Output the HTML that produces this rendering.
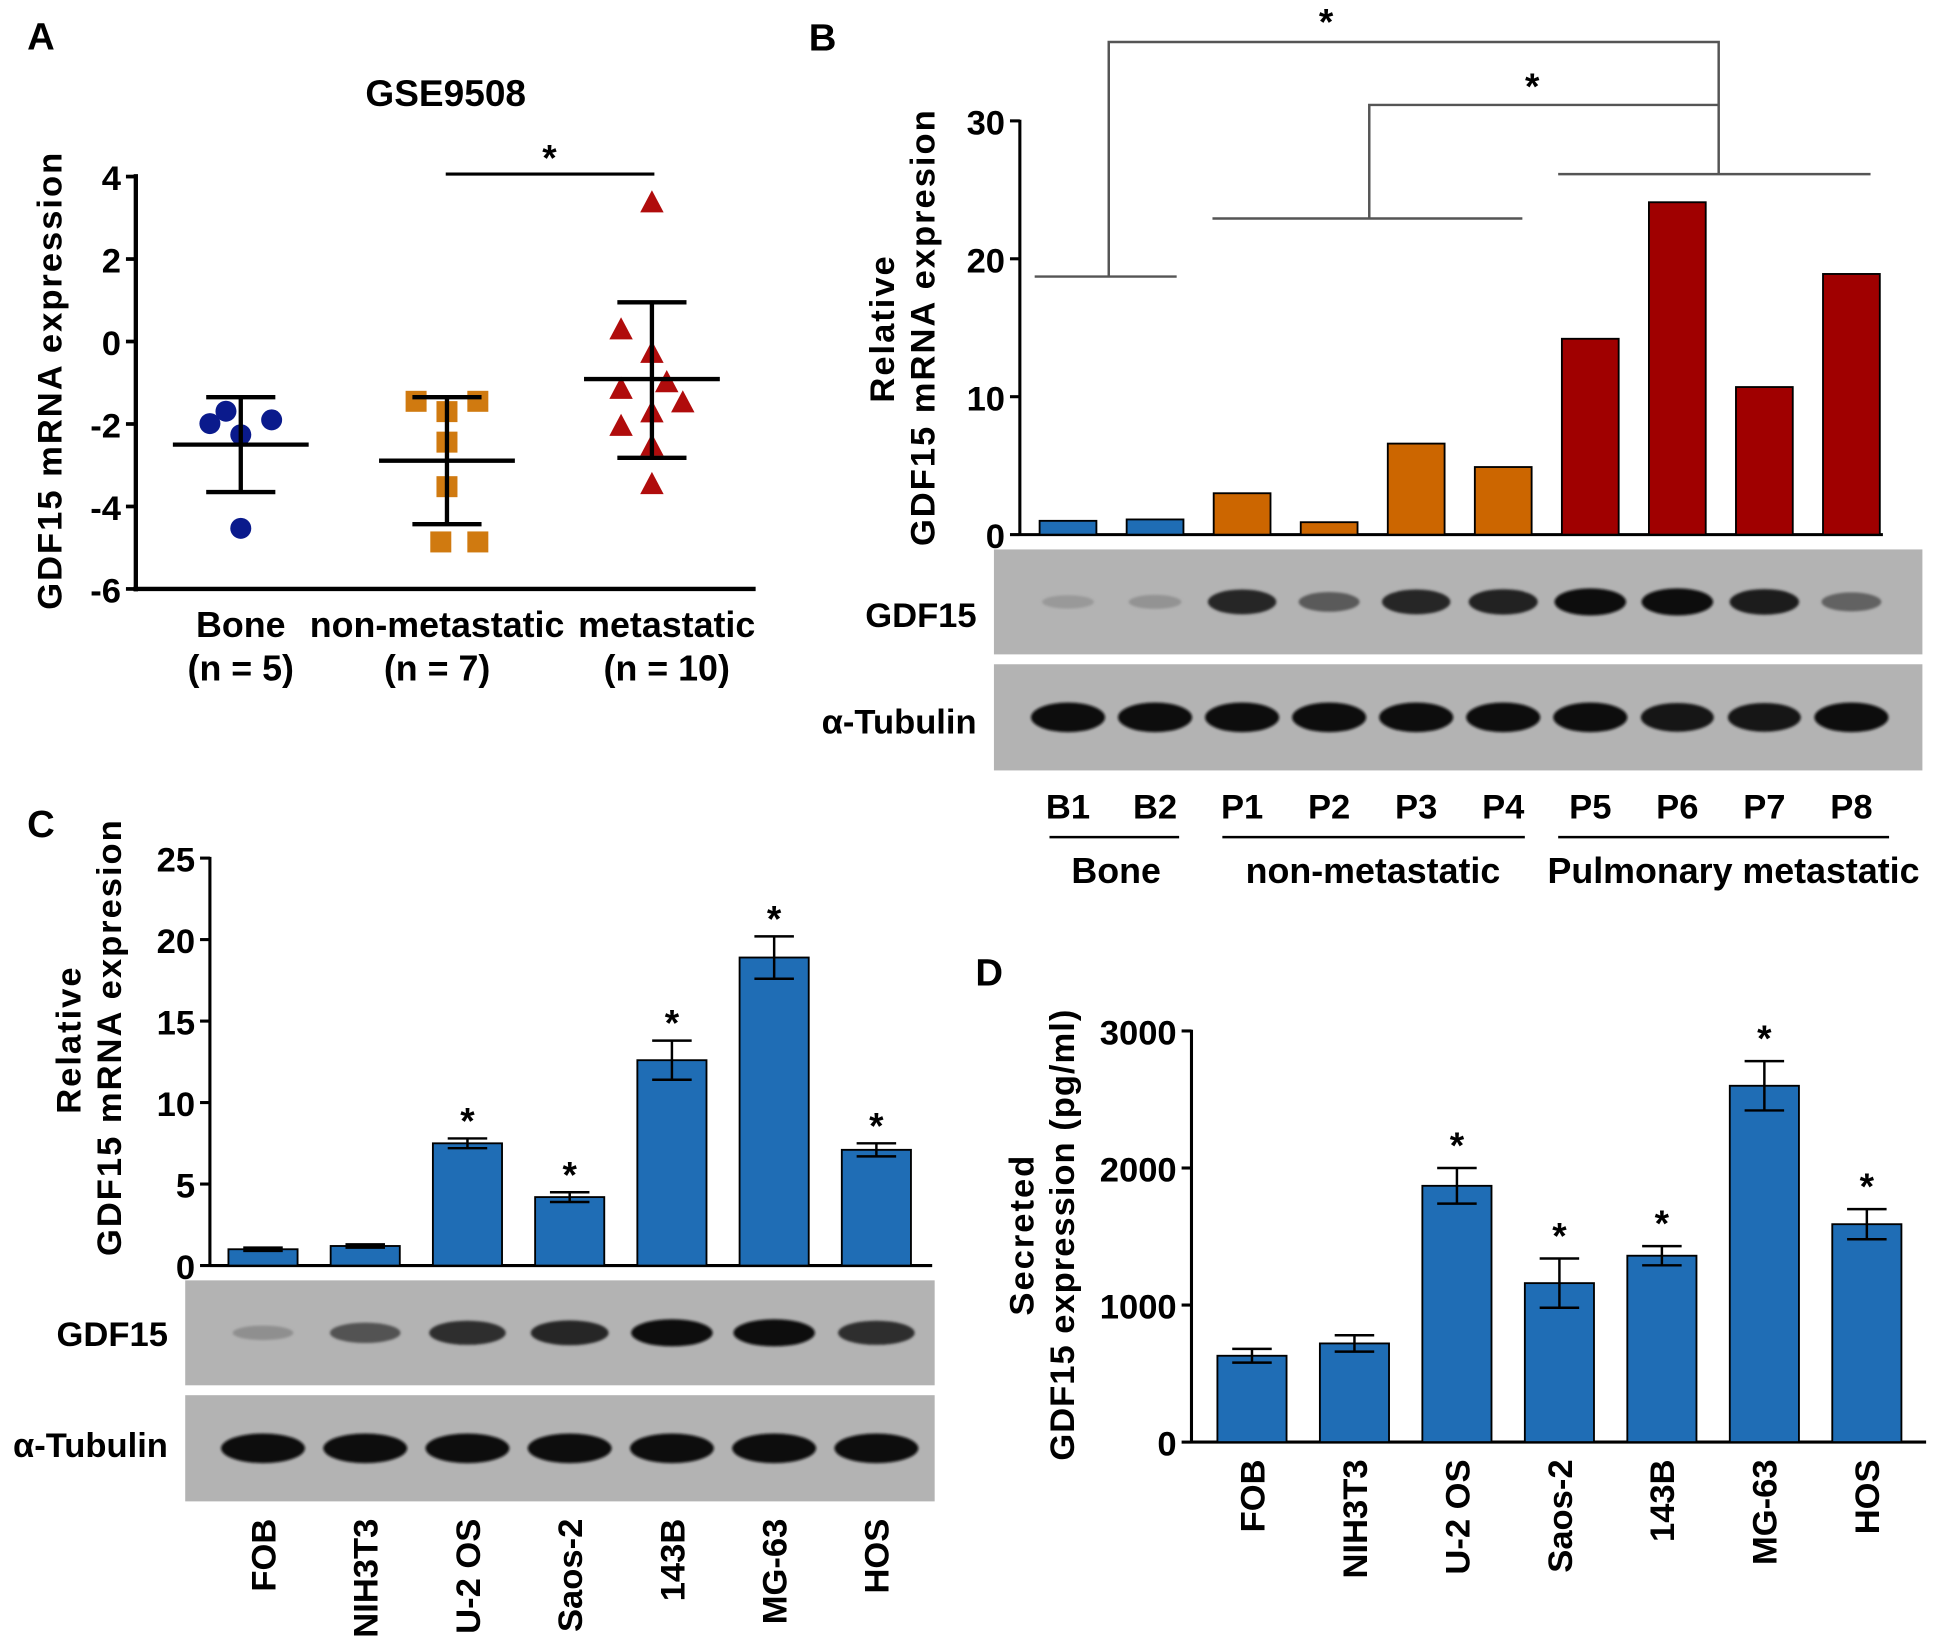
<!DOCTYPE html>
<html><head><meta charset="utf-8"><style>
html,body{margin:0;padding:0;background:#fff;}
svg{display:block;font-family:"Liberation Sans",Arial,sans-serif;font-weight:bold;}
</style></head><body>
<svg id="fig" width="1936" height="1652" viewBox="0 0 1568 1338">
<defs>
<filter id="blur2"><feGaussianBlur stdDeviation="1.0"/></filter>
</defs>
<g id="A"></g>
<g id="B"></g>
<g id="C"></g>
<g id="D"></g>
</svg>
<script>
// ---- Panel A data ----
const aGroups = ["Bone","non-metastatic","metastatic"];
const aGroupN = ["(n = 5)","(n = 7)","(n = 10)"];
const aBone = [-1.99,-1.69,-1.9,-2.26,-4.53];
const aNonMet = [-1.45,-1.45,-1.7,-2.44,-3.52,-4.86,-4.86];
const aMet = [3.37,0.29,-0.28,-0.99,-1.15,-1.48,-1.72,-2.05,-2.53,-3.46];
const aMean = [-2.5,-2.89,-0.91];
const aErrHi = [-1.35,-1.35,0.95];
const aErrLo = [-3.65,-4.43,-2.82];
const aTicks = [4,2,0,-2,-4,-6];
// ---- Panel B data ----
const bLabels = ["B1","B2","P1","P2","P3","P4","P5","P6","P7","P8"];
const bValues = [1.0,1.1,3.0,0.9,6.6,4.9,14.2,24.1,10.7,18.9];
const bGroupIdx = [0,0,1,1,1,1,2,2,2,2];
const bTicks = [0,10,20,30];
const bBandGDF = [0.08,0.12,0.85,0.5,0.85,0.88,1,1,0.9,0.45];
// ---- Panel C data ----
const cLabels = ["FOB","NIH3T3","U-2 OS","Saos-2","143B","MG-63","HOS"];
const cValues = [1.0,1.2,7.5,4.2,12.6,18.9,7.1];
const cErrors = [0.1,0.1,0.3,0.3,1.2,1.3,0.4];
const cStar = [false,false,true,true,true,true,true];
const cTicks = [0,5,10,15,20,25];
const cBandGDF = [0.15,0.55,0.8,0.85,1,1,0.8];
// ---- Panel D data ----
const dLabels = ["FOB","NIH3T3","U-2 OS","Saos-2","143B","MG-63","HOS"];
const dValues = [630,720,1870,1160,1360,2600,1590];
const dErrors = [50,60,130,180,70,180,110];
const dStar = [false,false,true,true,true,true,true];
const dTicks = [0,1000,2000,3000];

const NS="http://www.w3.org/2000/svg";
const FS=28;
function mk(parent,tag,attrs,text){const e=document.createElementNS(NS,tag);for(const k in attrs)e.setAttribute(k,attrs[k]);if(text!==undefined)e.textContent=text;parent.appendChild(e);return e;}
function line(p,x1,y1,x2,y2,w,c){return mk(p,"line",{x1,y1,x2,y2,stroke:c||"#000","stroke-width":w||3});}

// ================= Panel A =================
(function(){
const g=document.getElementById("A");
const yA=v=>143+(4-v)*33.4;
const xA=i=>[195,362,528][i];
let t=mk(g,"text",{x:22,y:40,"font-size":31},"A");


t=mk(g,"text",{x:361,y:86,"font-size":30,"text-anchor":"middle"},"GSE9508");


let ax=line(g,110,141,110,479,3.5);


ax=line(g,108,477,612,477,3.5);


aTicks.forEach(v=>{line(g,102,yA(v),110,yA(v),3);
 const l=mk(g,"text",{x:98,y:yA(v)+11,"font-size":FS,"text-anchor":"end"},String(v));
 
 });
t=mk(g,"text",{transform:"translate(50,308) rotate(-90)","font-size":FS,"text-anchor":"middle","letter-spacing":"1.6"},"GDF15 mRNA expression");


aGroups.forEach((n,i)=>{const l=mk(g,"text",{x:[195,354,540][i],y:516,"font-size":29,"text-anchor":"middle"},n);
 
 
 const m=mk(g,"text",{x:[195,354,540][i],y:551,"font-size":29,"text-anchor":"middle"},aGroupN[i]);
 
 });
const boneDx=[-25,-12,25,0,0];
aBone.forEach((v,i)=>{const c=mk(g,"circle",{cx:xA(0)+boneDx[i],cy:yA(v),r:8.5,fill:"#0a1a8c"});
 
 });
const nmDx=[-25,25,0,0,0,-5,25];
aNonMet.forEach((v,i)=>{const r=mk(g,"rect",{x:xA(1)+nmDx[i]-8.5,y:yA(v)-8.5,width:17,height:17,fill:"#d07a10"});
 
 });
const mDx=[0,-25,0,12,-25,25,0,-25,0,0];
aMet.forEach((v,i)=>{const cx=xA(2)+mDx[i],cy=yA(v);
 const p=mk(g,"polygon",{points:`${cx},${cy-10} ${cx+9.5},${cy+8} ${cx-9.5},${cy+8}`,fill:"#b00c0c"});
 
 });
aMean.forEach((m,i)=>{const x=xA(i);
 const a=line(g,x-55,yA(m),x+55,yA(m),3.5);
 
 
 const b=line(g,x,yA(aErrHi[i]),x,yA(aErrLo[i]),3.5);
 
 
 line(g,x-28,yA(aErrHi[i]),x+28,yA(aErrHi[i]),3.5);
 line(g,x-28,yA(aErrLo[i]),x+28,yA(aErrLo[i]),3.5);});
const s=line(g,361,141,530,141,2.5);


t=mk(g,"text",{x:445,y:138,"font-size":30,"text-anchor":"middle"},"*");


})();

// ================= Blot helper =================
function blot(g,x,y,w,h,centers,intens,bw,bh,name){
 const r=mk(g,"rect",{x,y,width:w,height:h,fill:"#b3b3b3"});
 
 
 centers.forEach((cx,i)=>{const it=intens[i];if(it<=0)return;
  const shade=Math.round(165-it*150);
  mk(g,"ellipse",{cx,cy:y+h/2,rx:bw/2*(0.7+0.3*it),ry:(bh/2)*(0.45+0.55*it),fill:`rgb(${shade},${shade},${shade})`,filter:"url(#blur2)"});});
}

// ================= Panel B =================
(function(){
const g=document.getElementById("B");
const yB=v=>433-v*11.17;
const xB=i=>865+i*70.5;
const colors=["#1f6db5","#cc6600","#a00000"];
let t=mk(g,"text",{x:655,y:41,"font-size":31},"B");


let ax=line(g,826,97,826,434,2.5);


ax=line(g,826,433,1525,433,2.5);


bTicks.forEach(v=>{line(g,818,yB(v),826,yB(v),2.5);
 const l=mk(g,"text",{x:814,y:yB(v)+11,"font-size":FS,"text-anchor":"end"},String(v));
 
 });
t=mk(g,"text",{transform:"translate(724,266) rotate(-90)","font-size":FS,"text-anchor":"middle","letter-spacing":"1.6"},"Relative");


t=mk(g,"text",{transform:"translate(757,265) rotate(-90)","font-size":FS,"text-anchor":"middle","letter-spacing":"1.6"},"GDF15 mRNA expresion");


bValues.forEach((v,i)=>{const r=mk(g,"rect",{x:xB(i)-23,y:yB(v),width:46,height:433-yB(v),fill:colors[bGroupIdx[i]],stroke:"#000","stroke-width":1.5});
 
 });
const br=mk(g,"g",{stroke:"#555","stroke-width":2,fill:"none"});


mk(br,"path",{d:"M838,224 H953 M898,224 V34 H1392 V141 M982,177 H1233 M1109,177 V85 H1392 M1262,141 H1515"});
[[1074,28],[1241,80]].forEach(p=>{const s=mk(g,"text",{x:p[0],y:p[1],"font-size":30,"text-anchor":"middle"},"*");
 
 });
blot(g,805,445,752,85,bLabels.map((_,i)=>xB(i)),bBandGDF,58,22,'gdf15-blot');
blot(g,805,538,752,86,bLabels.map((_,i)=>xB(i)),[1,1,1,1,1,1,1,0.95,0.95,1],60,24,'tubulin-blot');
t=mk(g,"text",{x:791,y:508,"font-size":FS,"text-anchor":"end"},"GDF15");


t=mk(g,"text",{x:791,y:594,"font-size":FS,"text-anchor":"end"},"α-Tubulin");


bLabels.forEach((n,i)=>{const l=mk(g,"text",{x:xB(i),y:663,"font-size":FS,"text-anchor":"middle"},n);
 
 });
[[850,955,904,"Bone"],[990,1235,1112,"non-metastatic"],[1262,1530,1404,"Pulmonary metastatic"]].forEach(q=>{
 line(g,q[0],678,q[1],678,2);
 const l=mk(g,"text",{x:q[2],y:715,"font-size":29,"text-anchor":"middle"},q[3]);
 
 });
})();

// ================= Panel C =================
(function(){
const g=document.getElementById("C");
const yC=v=>1025-v*13.2;
const xC=i=>213+i*82.8;
let t=mk(g,"text",{x:22,y:678,"font-size":31},"C");


let ax=line(g,170,694,170,1026,2.5);


ax=line(g,170,1025,755,1025,2.5);


cTicks.forEach(v=>{line(g,162,yC(v),170,yC(v),2.5);
 const l=mk(g,"text",{x:158,y:yC(v)+11,"font-size":FS,"text-anchor":"end"},String(v));
 
 });
t=mk(g,"text",{transform:"translate(65,842) rotate(-90)","font-size":FS,"text-anchor":"middle","letter-spacing":"1.6"},"Relative");


t=mk(g,"text",{transform:"translate(98,840) rotate(-90)","font-size":FS,"text-anchor":"middle","letter-spacing":"1.6"},"GDF15 mRNA expresion");


cValues.forEach((v,i)=>{const x=xC(i);
 const r=mk(g,"rect",{x:x-28,y:yC(v),width:56,height:1025-yC(v),fill:"#1f6db5",stroke:"#000","stroke-width":1.5});
 
 
 const e=line(g,x,yC(v+cErrors[i]),x,yC(v-cErrors[i]),2);
 
 
 line(g,x-16,yC(v+cErrors[i]),x+16,yC(v+cErrors[i]),2);
 line(g,x-16,yC(v-cErrors[i]),x+16,yC(v-cErrors[i]),2);
 if(cStar[i]){const s=mk(g,"text",{x,y:yC(v+cErrors[i])-4,"font-size":30,"text-anchor":"middle"},"*");
  
  }
 const l=mk(g,"text",{transform:`translate(${x+10},1230) rotate(-90)`,"font-size":FS,"text-anchor":"end"},cLabels[i]);
 
 });
blot(g,150,1037,607,85,cLabels.map((_,i)=>xC(i)),cBandGDF,66,22,'gdf15-blot');
blot(g,150,1130,607,86,cLabels.map((_,i)=>xC(i)),[1,1,1,1,1,1,1],68,24,'tubulin-blot');
t=mk(g,"text",{x:136,y:1090,"font-size":FS,"text-anchor":"end"},"GDF15");


t=mk(g,"text",{x:136,y:1180,"font-size":FS,"text-anchor":"end"},"α-Tubulin");


})();

// ================= Panel D =================
(function(){
const g=document.getElementById("D");
const yD=v=>1168-v*0.111;
const xD=i=>1014+i*83;
let t=mk(g,"text",{x:790,y:798,"font-size":31},"D");


let ax=line(g,965,834,965,1169,2.5);


ax=line(g,965,1168,1560,1168,2.5);


dTicks.forEach(v=>{line(g,957,yD(v),965,yD(v),2.5);
 const l=mk(g,"text",{x:953,y:yD(v)+11,"font-size":FS,"text-anchor":"end"},String(v));
 
 });
t=mk(g,"text",{transform:"translate(837,1000) rotate(-90)","font-size":FS,"text-anchor":"middle","letter-spacing":"1.6"},"Secreted");


t=mk(g,"text",{transform:"translate(870,1000) rotate(-90)","font-size":FS,"text-anchor":"middle","letter-spacing":"0.8"},"GDF15 expression (pg/ml)");


dValues.forEach((v,i)=>{const x=xD(i);
 const r=mk(g,"rect",{x:x-28,y:yD(v),width:56,height:1168-yD(v),fill:"#1f6db5",stroke:"#000","stroke-width":1.5});
 
 
 const e=line(g,x,yD(v+dErrors[i]),x,yD(v-dErrors[i]),2);
 
 
 line(g,x-16,yD(v+dErrors[i]),x+16,yD(v+dErrors[i]),2);
 line(g,x-16,yD(v-dErrors[i]),x+16,yD(v-dErrors[i]),2);
 if(dStar[i]){const s=mk(g,"text",{x,y:yD(v+dErrors[i])-8,"font-size":30,"text-anchor":"middle"},"*");
  
  }
 const l=mk(g,"text",{transform:`translate(${x+10},1182) rotate(-90)`,"font-size":FS,"text-anchor":"end"},dLabels[i]);
 
 });
})();
</script>
</body></html>
